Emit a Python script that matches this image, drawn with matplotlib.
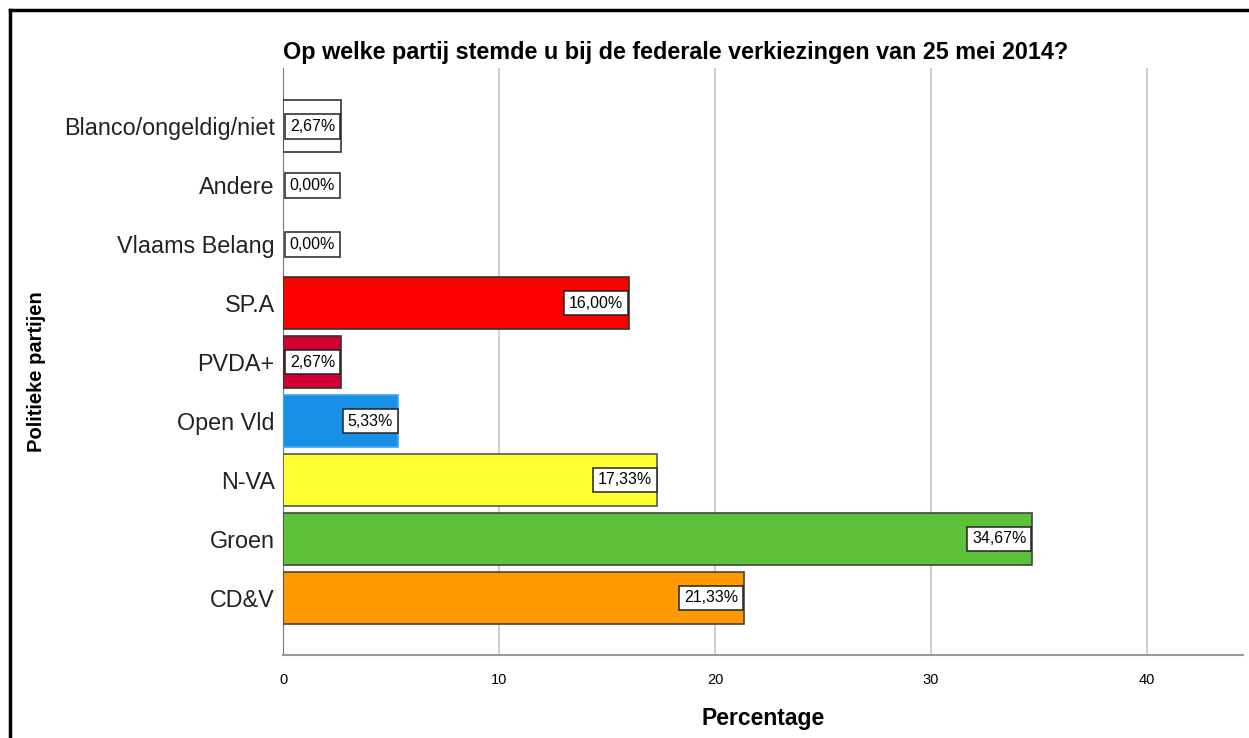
import matplotlib
matplotlib.use("Agg")
import matplotlib.pyplot as plt
from matplotlib.lines import Line2D

plt.rcParams['font.family'] = ['Liberation Sans', 'DejaVu Sans']

# data (top to bottom as shown)
partijen = ['Blanco/ongeldig/niet', 'Andere', 'Vlaams Belang', 'SP.A', 'PVDA+',
            'Open Vld', 'N-VA', 'Groen', 'CD&V']
percentages = [2.67, 0.00, 0.00, 16.00, 2.67, 5.33, 17.33, 34.67, 21.33]
kleuren = ['#FFFFFF', '#FFFFFF', '#FFFFFF', '#FF0000', '#D20032',
           '#1790E6', '#FFFF33', '#5EC13A', '#FF9900']
randen = ['#333333', '#333333', '#333333', '#333333', '#333333',
          '#3FA6F0', '#555555', '#444444', '#444444']
xticks = [0, 10, 20, 30, 40]

fig = plt.figure(figsize=(12.49, 7.38), dpi=100)
ax = fig.add_axes([283/1249, 1-655/738, 960/1249, (655-68)/738])

ypos = list(range(len(partijen)))[::-1]
for y, v, c, e in zip(ypos, percentages, kleuren, randen):
    if v > 0:
        ax.barh(y, v, height=0.88, color=c, edgecolor=e, linewidth=1.2, zorder=3)

lfs = 11.5
pad = 0.3
for y, v in zip(ypos, percentages):
    txt = f"{v:.2f}".replace('.', ',') + '%'
    box = dict(boxstyle=f'square,pad={pad}', fc='white', ec='#222222', lw=1.1)
    if v > 0:
        ax.annotate(txt, (v, y), xytext=(-pad*lfs - 0.4, 0), textcoords='offset points',
                    ha='right', va='center', fontsize=lfs, zorder=5, bbox=box)
    else:
        ax.annotate(txt, (0, y), xytext=(pad*lfs + 1.2, 0), textcoords='offset points',
                    ha='left', va='center', fontsize=lfs, zorder=5, bbox=box)

ax.set_xlim(0, 44.45)
ax.set_ylim(-0.97, 8.99)
ax.set_yticks(ypos)
ax.set_yticklabels(partijen, fontsize=16.8, color='#222222')
ax.set_xticks(xticks)
ax.set_xticklabels([str(t) for t in xticks], fontsize=10.5)
ax.tick_params(axis='both', length=0)
ax.tick_params(axis='x', pad=13)
ax.tick_params(axis='y', pad=6)
ax.grid(axis='x', color='#CCCCCC', lw=1.3, zorder=0)
ax.set_axisbelow(True)
for s in ['top', 'right']:
    ax.spines[s].set_visible(False)
ax.spines['left'].set_color('#777777')
ax.spines['bottom'].set_color('#999999')
ax.spines['bottom'].set_linewidth(1.5)

ax.set_xlabel('Percentage', fontsize=16.5, fontweight='bold', labelpad=14)
fig.text(37/1249, 1-372/738, 'Politieke partijen', rotation=90, ha='center', va='center',
         fontsize=14.5, fontweight='bold')
fig.text(283/1249, 1-52/738, 'Op welke partij stemde u bij de federale verkiezingen van 25 mei 2014?',
         ha='left', va='center', fontsize=16.8, fontweight='bold')

# outer frame (left and top)
fig.add_artist(Line2D([9.5/1249, 9.5/1249], [0, 1-10/738], color='black', lw=2.5))
fig.add_artist(Line2D([9.5/1249, 1], [1-10/738, 1-10/738], color='black', lw=2.5))

fig.savefig('out.png', dpi=100)
